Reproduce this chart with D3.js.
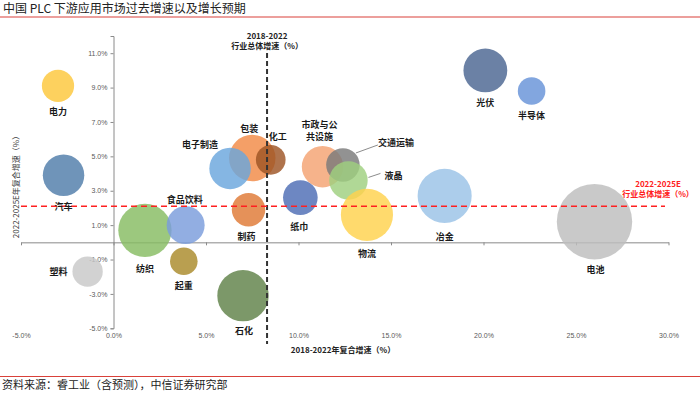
<!DOCTYPE html>
<html>
<head>
<meta charset="utf-8">
<script src="https://cdn.jsdelivr.net/npm/d3@7"></script>
<style>
  body { margin: 0; background: #fff; }
  svg { display: block; }
</style>
</head>
<body>
<div id="chart"></div>
<script>
// industries (drawing order)
var industries = ['电力', '汽车', '塑料', '纺织', '食品饮料', '起重', '包装', '电子制造', '化工', '制药',
                  '石化', '纸巾', '市政与公共设施', '交通运输', '液晶', '物流', '冶金', '光伏', '半导体', '电池'];
// 2018-2022 CAGR (%)
var growthPast = [-3.0, -2.7, -1.4, 1.7, 3.9, 3.8, 7.5, 6.3, 8.5, 7.3,
                  7.0, 10.1, 11.3, 12.4, 12.7, 13.7, 17.9, 20.1, 22.6, 26.0];
// 2022-2025E CAGR (%)
var growthFuture = [9.1, 3.9, -1.7, 0.7, 1.0, -1.1, 4.9, 4.3, 4.8, 1.9,
                    -3.1, 2.6, 4.4, 4.5, 3.6, 1.6, 2.7, 10.0, 8.8, 1.2];
// market size (bubble size)
var marketSize = [26, 43, 23, 71, 36, 19, 54, 43, 22, 28,
                  66, 30, 43, 28, 37, 68, 73, 48, 19, 142];
var industryPast = 8.3;     // 2018-2022 行业总体增速
var industryFuture = 2.1;   // 2022-2025E 行业总体增速
var xTicks = [-5, 0, 5, 10, 15, 20, 25, 30];
var yTicks = [-5, -3, -1, 1, 3, 5, 7, 9, 11];

var colors = ['#fdc73a', '#4f7caa', '#c8c8c8', '#86bc62', '#7a9cdc', '#a98a2a', '#f28a45', '#6aa6dd', '#9e5424', '#df7935',
              '#5f8148', '#4d6db5', '#f4a271', '#7a7a7a', '#9fd07f', '#ffd24d', '#9ac2e7', '#4b6591', '#6792d8', '#bdbdbd'];

// label offsets from bubble centre (px)
var labelPos = {
  '电力': [0, 26], '汽车': [0, 31], '塑料': [-29, 0], '纺织': [0, 38], '食品饮料': [-1, -26],
  '起重': [0, 24], '包装': [-3, -30], '电子制造': [-30, -24], '化工': [7, -23], '制药': [-2, 27],
  '石化': [1, 35], '纸巾': [-1, 29], '交通运输': [53, -22], '液晶': [45, -5], '物流': [0, 39],
  '冶金': [0, 41], '光伏': [0, 32], '半导体': [0, 24], '电池': [1, 48]
};

var chart_width = 700;
var chart_height = 396;

var svg = d3.select('#chart')
  .append('svg')
  .attr('width', chart_width)
  .attr('height', chart_height);

var x = d3.scaleLinear().domain([-5, 30]).range([21, 668.5]);
var y = d3.scaleLinear().domain([-5, 12]).range([328.3, 36]);
var r = d3.scaleSqrt().domain([0, d3.max(marketSize)]).range([0, 37.7]);

var cjk = '"Noto Sans CJK SC", "Noto Sans", sans-serif';
var latin = '"Liberation Sans", Arial, sans-serif';

// title + rules
svg.append('text')
  .attr('x', 3)
  .attr('y', 13)
  .attr('font-family', cjk)
  .attr('font-size', '12px')
  .attr('fill', '#222')
  .text('中国 PLC 下游应用市场过去增速以及增长预期');

svg.append('line')
  .attr('x1', 0).attr('x2', chart_width)
  .attr('y1', 17).attr('y2', 17)
  .attr('stroke', '#d9413a')
  .attr('stroke-width', 1.2);

svg.append('line')
  .attr('x1', 0).attr('x2', chart_width)
  .attr('y1', 376.5).attr('y2', 376.5)
  .attr('stroke', '#d9413a')
  .attr('stroke-width', 1.2);

svg.append('text')
  .attr('x', 2)
  .attr('y', 389)
  .attr('font-family', cjk)
  .attr('font-size', '11px')
  .attr('fill', '#222')
  .text('资料来源：睿工业（含预测），中信证券研究部');

// y axis at x = 0
var yAxis = svg.append('g')
  .attr('transform', 'translate(' + x(0) + ',0)')
  .call(d3.axisLeft(y).tickValues(yTicks).tickSize(3).tickPadding(3)
    .tickFormat(function(d) { return d.toFixed(1) + '%'; }));

// x axis at y = 0 (ticks only)
var xAxis = svg.append('g')
  .attr('transform', 'translate(0,' + y(0) + ')')
  .call(d3.axisBottom(x).tickValues(xTicks).tickSize(3).tickSizeOuter(0).tickFormat(''));

// x tick labels at the bottom
var xLabels = svg.append('g')
  .attr('transform', 'translate(0,' + y(-5) + ')')
  .call(d3.axisBottom(x).tickValues(xTicks).tickSize(0).tickPadding(5)
    .tickFormat(function(d) { return d.toFixed(1) + '%'; }));
xLabels.select('.domain').remove();

[yAxis, xAxis, xLabels].forEach(function(g) {
  g.select('.domain').attr('stroke', '#8a8a8a');
  g.selectAll('.tick line').attr('stroke', '#8a8a8a');
  g.selectAll('.tick text')
    .attr('font-family', latin)
    .attr('font-size', '7px')
    .attr('fill', '#595959');
});

// axis titles
svg.append('text')
  .attr('transform', 'translate(15,185) rotate(-90)')
  .attr('text-anchor', 'middle')
  .attr('dominant-baseline', 'central')
  .attr('font-family', cjk)
  .attr('font-size', '8px')
  .attr('fill', '#404040')
  .text('2022-2025E年复合增速（%）');

svg.append('text')
  .attr('x', 343)
  .attr('y', 349)
  .attr('text-anchor', 'middle')
  .attr('dominant-baseline', 'central')
  .attr('font-family', cjk)
  .attr('font-size', '8px')
  .attr('font-weight', 'bold')
  .attr('fill', '#222')
  .text('2018-2022年复合增速（%）');

// bubbles
var bubbles = svg.append('g');
bubbles.selectAll('circle')
  .data(industries)
  .enter()
  .append('circle')
  .attr('cx', function(d, i) { return x(growthPast[i]); })
  .attr('cy', function(d, i) { return y(growthFuture[i]); })
  .attr('r', function(d, i) { return r(marketSize[i]); })
  .attr('fill', function(d, i) { return colors[i]; })
  .attr('fill-opacity', 0.82);

// reference lines
svg.append('line')
  .attr('x1', x(industryPast)).attr('x2', x(industryPast))
  .attr('y1', 53).attr('y2', 344)
  .attr('stroke', '#333')
  .attr('stroke-width', 2)
  .attr('stroke-dasharray', '5,3');

svg.append('line')
  .attr('x1', x(-5)).attr('x2', 665)
  .attr('y1', y(industryFuture)).attr('y2', y(industryFuture))
  .attr('stroke', '#ff2020')
  .attr('stroke-width', 1.5)
  .attr('stroke-dasharray', '6,4');

svg.append('text')
  .attr('x', x(industryPast))
  .attr('y', 35)
  .attr('text-anchor', 'middle')
  .attr('dominant-baseline', 'central')
  .attr('font-family', cjk)
  .attr('font-size', '8px')
  .attr('font-weight', 'bold')
  .attr('fill', '#222')
  .text('2018-2022');

svg.append('text')
  .attr('x', x(industryPast))
  .attr('y', 45)
  .attr('text-anchor', 'middle')
  .attr('dominant-baseline', 'central')
  .attr('font-family', cjk)
  .attr('font-size', '8px')
  .attr('font-weight', 'bold')
  .attr('fill', '#222')
  .text('行业总体增速（%）');

svg.append('text')
  .attr('x', 658)
  .attr('y', 183)
  .attr('text-anchor', 'middle')
  .attr('dominant-baseline', 'central')
  .attr('font-family', cjk)
  .attr('font-size', '8px')
  .attr('font-weight', 'bold')
  .attr('fill', '#ff2020')
  .text('2022-2025E');

svg.append('text')
  .attr('x', 658)
  .attr('y', 193)
  .attr('text-anchor', 'middle')
  .attr('dominant-baseline', 'central')
  .attr('font-family', cjk)
  .attr('font-size', '8px')
  .attr('font-weight', 'bold')
  .attr('fill', '#ff2020')
  .text('行业总体增速（%）');

// leader lines
function leader(name, x1, y1, x2, y2) {
  var i = industries.indexOf(name);
  var cx = x(growthPast[i]), cy = y(growthFuture[i]);
  svg.append('line')
    .attr('x1', cx + x1).attr('y1', cy + y1)
    .attr('x2', cx + x2).attr('y2', cy + y2)
    .attr('stroke', '#8c8c8c')
    .attr('stroke-width', 1);
}
leader('交通运输', 13, -12, 35, -20);
leader('液晶', 20, -3, 32, -7);

// bubble labels
var labels = svg.append('g')
  .attr('font-family', cjk)
  .attr('font-size', '9px')
  .attr('font-weight', 'bold')
  .attr('fill', '#1a1a1a')
  .attr('text-anchor', 'middle');

industries.forEach(function(name, i) {
  var cx = x(growthPast[i]), cy = y(growthFuture[i]);
  if (name === '市政与公共设施') {
    labels.append('text').attr('x', cx - 3).attr('y', cy - 42)
      .attr('dominant-baseline', 'central').text('市政与公');
    labels.append('text').attr('x', cx - 3).attr('y', cy - 30)
      .attr('dominant-baseline', 'central').text('共设施');
    return;
  }
  var p = labelPos[name];
  labels.append('text')
    .attr('x', cx + p[0])
    .attr('y', cy + p[1])
    .attr('dominant-baseline', 'central')
    .text(name);
});
</script>
</body>
</html>
